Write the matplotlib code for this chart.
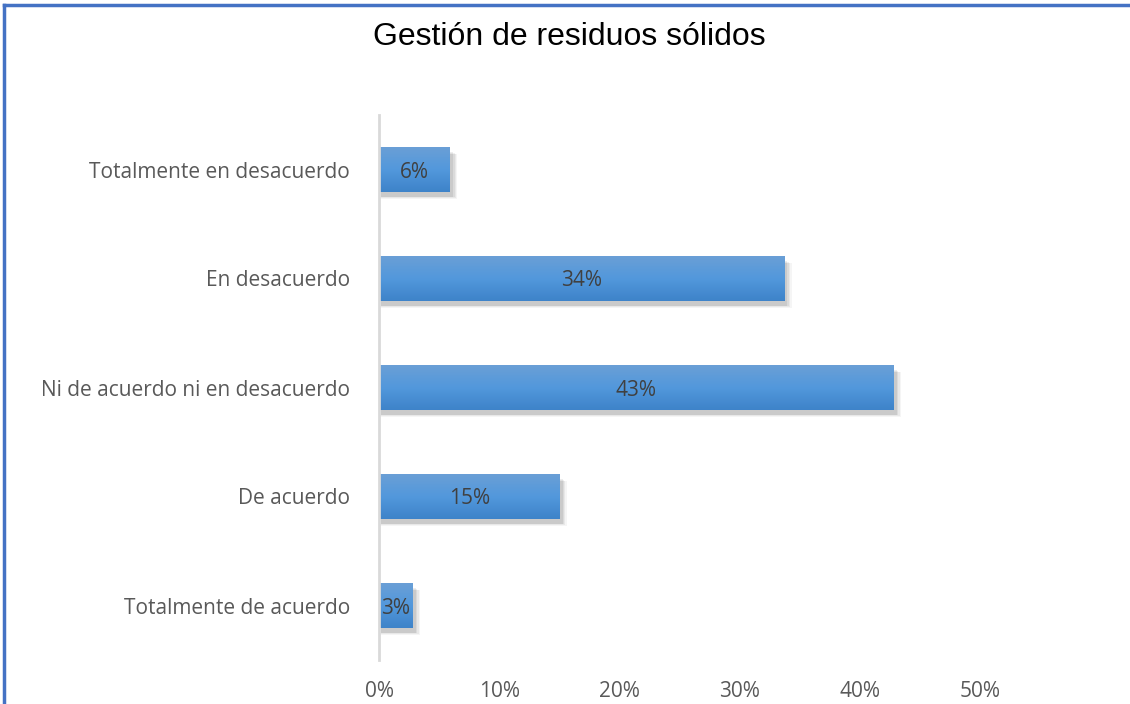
import numpy as np
import matplotlib
matplotlib.use("Agg")
import matplotlib.pyplot as plt
from matplotlib.colors import LinearSegmentedColormap
from matplotlib.lines import Line2D

title = "Gestión de residuos sólidos"
categories = ["Totalmente de acuerdo", "De acuerdo", "Ni de acuerdo ni en desacuerdo",
              "En desacuerdo", "Totalmente en desacuerdo"]
values = [0.028, 0.15, 0.428, 0.337, 0.059]
labels = ["3%", "15%", "43%", "34%", "6%"]
xticks = [0, 0.1, 0.2, 0.3, 0.4, 0.5]
xticklabels = ["0%", "10%", "20%", "30%", "40%", "50%"]

fig = plt.figure(figsize=(11.3, 7.04), dpi=100)
ax = fig.add_axes([379/1130, 1-660/704, (980-379)/1130, (660-115)/704])

ypos = np.arange(len(categories))
h = 0.41
cmap = LinearSegmentedColormap.from_list("g", ["#3e83c9", "#5298dc", "#6a9fd6"])
grad = np.linspace(0, 1, 100).reshape(-1, 1)

for y, v, lab in zip(ypos, values, labels):
    # soft shadow
    for k, a in enumerate([0.04, 0.05, 0.06, 0.07]):
        d = 0.004 * (4 - k)
        ax.add_patch(plt.Rectangle((0.0015, y - h/2 - 0.035 - d*2), v + d*0.3, h, color="#000000",
                                   alpha=a, lw=0, zorder=1))
    ax.imshow(grad, aspect="auto", cmap=cmap, origin="lower",
              extent=[0, v, y - h/2, y + h/2], zorder=2)
    ax.text(v/2, y, lab, ha="center", va="center_baseline", fontsize=15, color="#404040",
            family="Open Sans", zorder=3)

ax.set_xlim(0, 0.5)
ax.set_ylim(-0.5, 4.5)
ax.set_yticks(ypos)
ax.set_yticklabels(categories, family="Open Sans", fontsize=15, color="#595959")
ax.set_xticks(xticks)
ax.set_xticklabels(xticklabels, family="Open Sans", fontsize=15, color="#595959")
ax.tick_params(axis="both", length=0)
ax.tick_params(axis="y", pad=21)
ax.tick_params(axis="x", pad=15)
for s in ["top", "right", "bottom"]:
    ax.spines[s].set_visible(False)
ax.spines["left"].set_color("#d9d9d9")
ax.spines["left"].set_linewidth(2)

fig.text(569/1130, 1-37/704, title, ha="center", va="center", fontsize=23,
         family="Liberation Sans", color="#000000")

# figure border
fig.add_artist(Line2D([4/1130, 4/1130], [0, 1-5/704], transform=fig.transFigure,
                      color="#4472c4", lw=2.5))
fig.add_artist(Line2D([4/1130, 1], [1-5/704, 1-5/704], transform=fig.transFigure,
                      color="#4472c4", lw=2.5))

fig.savefig("out.png", dpi=100)
